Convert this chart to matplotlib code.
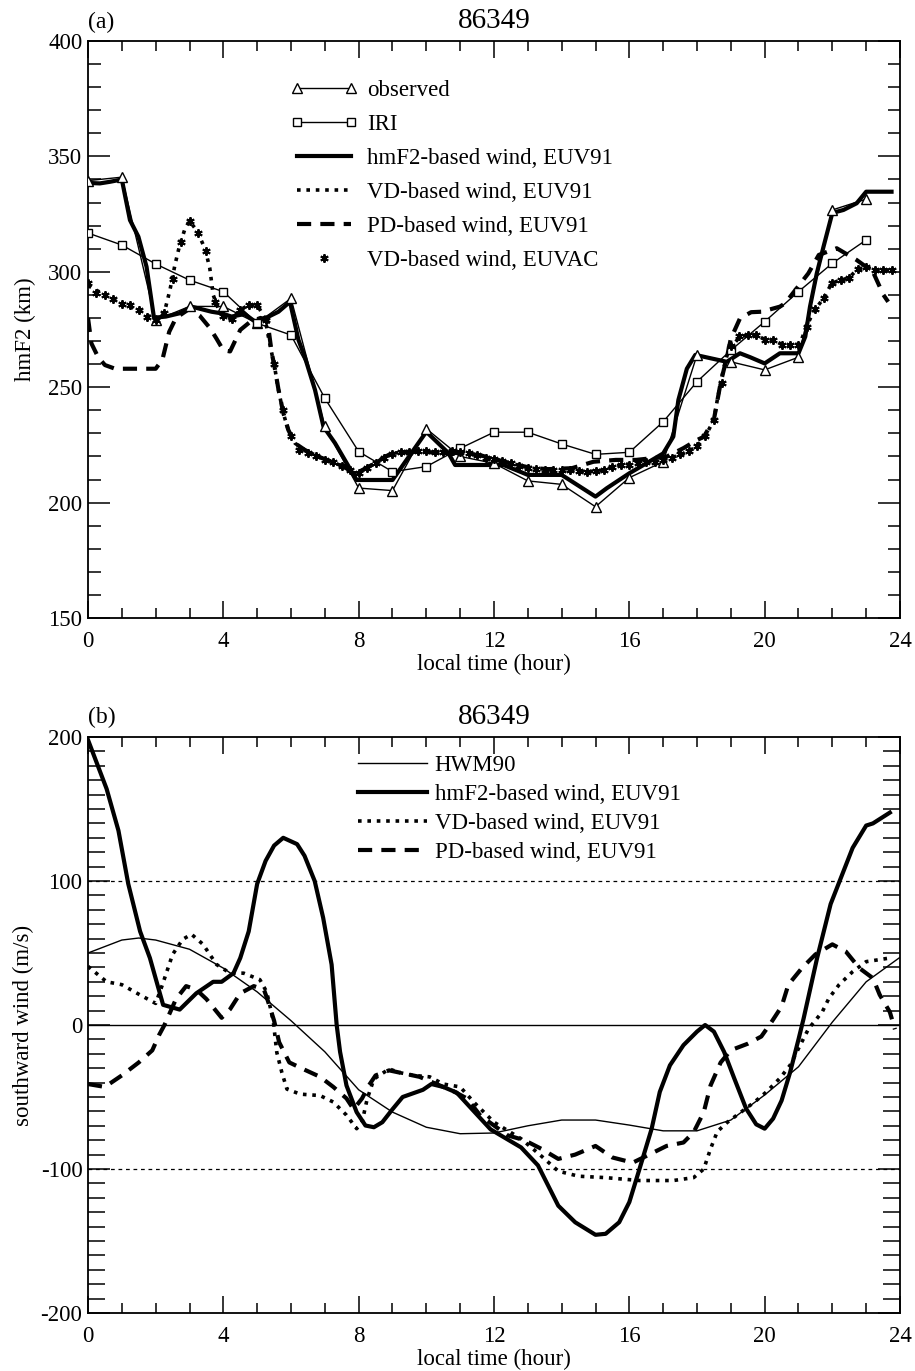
import numpy as np
import matplotlib
matplotlib.use("Agg")
import matplotlib.pyplot as plt
from matplotlib.ticker import MultipleLocator
from matplotlib.legend_handler import HandlerLine2D

plt.rcParams["font.family"] = ["Liberation Serif", "DejaVu Serif"]
plt.rcParams["axes.unicode_minus"] = False

DAY = "86349"

# ---- (a) hmF2, hourly observed / IRI ----
HOURS = list(range(24))
HMF2_OBS = [339.5, 341, 279, 285, 285, 277.7, 288.5, 233, 206.3, 205.2, 232, 220,
            217, 209.4, 207.9, 198.2, 210.8, 217.7, 264, 261, 257.5, 263, 326.8, 331.5]
HMF2_IRI = [316.8, 311.6, 303.4, 296.4, 291.4, 277.7, 272.6, 245.2, 222.1, 213.4, 215.6, 223.5,
            230.5, 230.5, 225.4, 220.9, 221.8, 235, 252.4, 266, 278.4, 291.4, 303.7, 313.8]

# model runs (time, hmF2)
HM_T = [0, 0.35, 0.65, 1.0, 1.24, 1.49, 1.73, 1.95, 2.3, 2.7, 3.06, 3.65, 3.95, 4.24, 4.63,
        4.94, 5.23, 5.63, 5.97, 6.22, 6.41, 6.71, 6.96, 7.3, 7.65, 7.94, 9.0, 10.0, 10.65,
        10.85, 12.28, 12.77, 13.0, 14.0, 15.0, 15.33, 16.0, 17.0, 17.3, 17.45, 17.7, 17.95,
        18.88, 19.27, 19.57, 20.0, 20.45, 21.0, 21.2, 21.34, 21.54, 21.74, 22.0, 22.33,
        22.72, 23.0, 23.75]
HM_V = [338.5, 338.3, 339, 340, 322.4, 315.2, 302.2, 280.1, 280.6, 282, 284.9, 282.7, 282,
        280.6, 281.7, 278.4, 279.8, 282.7, 287, 270.5, 263, 248.8, 232.9, 225.8, 217, 209.8,
        209.8, 230.7, 221.5, 216.3, 216.3, 213.4, 212, 212, 202.6, 206.2, 212.7, 221.3,
        228.6, 244.5, 258, 264, 261, 264.7, 263, 260.3, 264.7, 264.7, 271.9, 284.9, 299.3,
        310.9, 325.5, 326.8, 329.7, 334.7, 334.7]

VD_T = [0, 0.5, 1.0, 1.5, 2.0, 2.25, 2.42, 2.57, 2.71, 2.87, 3.0, 3.21, 3.46, 3.6, 3.7, 3.85,
        4.0, 4.24, 4.5, 4.75, 5.0, 5.23, 5.33, 5.43, 5.53, 5.63, 5.77, 5.92, 6.12, 6.41,
        6.81, 7.2, 7.55, 7.89, 8.1, 8.48, 8.78, 8.98, 9.37, 9.87, 10.45, 10.8, 11.2, 11.6,
        12.1, 12.5, 13.1, 13.56, 14.15, 14.74, 15.2, 15.73, 16.2, 16.7, 17.2, 17.6, 18.0,
        18.29, 18.5, 18.6, 18.7, 18.8, 18.93, 19.27, 19.5, 19.75, 20.04, 20.28, 20.53,
        20.9, 21.05, 21.2, 21.44, 21.74, 21.98, 22.23, 22.48, 22.72, 22.97, 23.22, 23.75]
VD_V = [294, 290, 286, 283.5, 279, 282, 292, 303, 311.6, 318.8, 322, 318, 310, 301.5, 290,
        284, 281, 279.5, 283.5, 285.6, 285.6, 280, 272, 264.8, 257.5, 248.8, 238.8, 231.5,
        225.7, 222.8, 219.9, 217.7, 215.6, 212.7, 214, 217, 219.9, 221.3, 222, 222, 221.5,
        221, 221.6, 220.5, 218.5, 217, 214.9, 214, 214, 213.4, 214, 216.3, 217, 217.7,
        219.2, 221.3, 224.2, 230, 235.8, 244.5, 252, 259, 266, 271.9, 272.6, 272.6, 270.4,
        270.4, 268.3, 268.3, 269, 275, 282.7, 288.5, 295, 296.4, 297.2, 300.8, 302.2,
        300.8, 300.8]

PD_T = [0, 0.1, 0.3, 0.5, 0.8, 2.0, 2.2, 2.4, 2.6, 3.0, 3.3, 3.6, 3.8, 4.0, 4.2, 4.5, 4.8,
        5.1, 5.3, 5.43, 5.53, 5.63, 5.77, 5.92, 6.12, 6.41, 6.81, 7.2, 7.55, 7.89, 8.1,
        8.48, 8.78, 9.0, 9.4, 9.9, 10.45, 11.0, 11.6, 12.1, 12.5, 13.1, 13.6, 14.3, 14.94,
        15.6, 16.2, 17.1, 17.6, 18.0, 18.2, 18.5, 18.7, 18.9, 19.0, 19.27, 19.6, 19.91,
        20.45, 20.6, 21.29, 21.6, 22.13, 22.72, 23.2, 23.51, 23.65]
PD_V = [280, 269, 263, 259.6, 258, 258, 262, 274, 280, 284, 281, 275.7, 271, 266, 265.5,
        274.8, 278.4, 280, 279, 265, 257.5, 249, 239, 231.5, 225.7, 222.8, 219.9, 217.7,
        215.6, 212.7, 214, 217, 219.9, 221.3, 222, 222, 221.5, 221.5, 220.5, 218.5, 217,
        215, 214.5, 214.9, 217.7, 218.5, 218.5, 219.9, 223.6, 227.1, 228.5, 236, 252, 264,
        271, 279.8, 282.5, 282.7, 284.9, 286.3, 299.3, 307.3, 310.2, 305.1, 300, 290, 287]

# EUVAC run, every quarter hour from 0 to 23.75
EUVAC_T = [i * 0.25 for i in range(96)]
EUVAC_V = [295, 291, 290, 288, 286, 285.5, 283.5, 280.5, 279, 282, 297, 313,
           322, 317, 309, 287, 281, 279.5, 283.5, 285.6, 285.6, 279, 260, 240,
           229, 223, 221.5, 220, 218.5, 217.5, 216, 214, 213, 215, 217, 219.5,
           221, 222, 222, 222.5, 222.5, 222, 222, 222.5, 222, 221.5, 220.5, 219.5,
           218.8, 218, 217, 216, 215, 214.5, 214, 214, 214, 214, 213.5, 213.4,
           213.5, 214, 215.5, 216.3, 216.5, 217, 217.5, 217.7, 218.5, 219.3, 221, 222.5,
           224.5, 229, 236, 252, 268, 272, 272.6, 272.6, 270.5, 270.4, 268.5, 268.3,
           268.5, 276, 284, 288.5, 295, 296.5, 297.5, 301, 302.2, 300.8, 300.8, 300.8]

# ---- (b) southward wind ----
HWM_T = [0, 1, 1.5, 2, 3, 4, 5, 6, 7, 8, 9, 10, 11, 12, 13, 14, 15, 16, 17, 18, 19, 20,
         21, 22, 23, 24]
HWM_V = [50, 59, 60.4, 59, 52.6, 39.5, 23, 3, -18.6, -45, -60.5, -71, -75.5, -75, -70, -66,
         -66, -69.5, -73.5, -73.5, -66, -48.6, -29, 2, 30, 47]

WHM_T = [0.0, 0.55, 0.9, 1.19, 1.54, 1.83, 2.22, 2.71, 3.2, 3.7, 3.95, 4.3, 4.5, 4.75, 5.0,
         5.25, 5.5, 5.77, 6.18, 6.4, 6.7, 6.95, 7.2, 7.35, 7.45, 7.64, 7.94, 8.2, 8.45, 8.7,
         9.0, 9.3, 9.9, 10.15, 10.5, 10.9, 11.35, 11.9, 12.8, 13.3, 13.9, 14.4, 15.0, 15.3,
         15.7, 16.0, 16.3, 16.66, 16.9, 17.2, 17.6, 18.0, 18.24, 18.5, 18.8, 19.1, 19.45,
         19.75, 20.0, 20.25, 20.5, 20.75, 21.0, 21.15, 21.55, 21.95, 22.25, 22.6, 23.0,
         23.2, 23.7]
WHM_V = [198, 164, 135, 98, 65, 46.5, 14, 10.7, 22, 30, 30, 36, 46.5, 65, 98, 114, 124.6,
         130, 125.6, 117.5, 100, 74.5, 42, 0, -18.6, -42, -60.5, -69.8, -71, -67.5, -58.5,
         -50, -45, -41, -43, -47, -58.5, -72.5, -85, -97.5, -125.5, -137, -145.7, -145,
         -137, -123, -100, -72, -46.5, -28, -14, -4.6, 0, -4.6, -18.6, -37, -58, -69, -72,
         -65, -52.5, -33, -10, 4.4, 46.5, 84, 102, 123, 138.5, 140, 147.5]

WVD_T = [0, 0.55, 1.0, 1.53, 2.0, 2.2, 2.5, 2.8, 3.06, 3.4, 3.8, 4.2, 4.6, 5.08, 5.28, 5.42,
         5.48, 5.58, 5.73, 5.88, 6.27, 6.86, 7.25, 7.64, 7.94, 8.1, 8.25, 8.45, 8.9, 9.2,
         9.6, 10.1, 10.5, 11.0, 11.4, 12.0, 12.8, 13.4, 13.9, 14.5, 15.3, 16.3, 17.3, 17.9,
         18.2, 18.4, 18.6, 18.9, 19.3, 19.7, 20.05, 20.45, 20.75, 21.05, 21.3, 21.7, 21.9,
         22.2, 22.6, 23.0, 23.7]
WVD_V = [40.7, 30, 28, 21, 15, 28, 49, 59.5, 63, 56, 42, 36, 36, 31.5, 23, 9, 2, -19, -33,
         -44.5, -48, -49, -53.5, -62.6, -72, -67.5, -51.5, -37.5, -30.5, -33, -35, -36, -41,
         -43, -53.5, -67.5, -79, -91, -101.5, -105, -106, -108, -108, -106, -100, -86, -74,
         -67.5, -60.5, -53.5, -46.5, -37, -28, -14, -2.5, 9, 18.6, 28, 37, 44, 46.5]

WPD_T = [0, 0.5, 1.0, 1.5, 1.9, 2.1, 2.26, 2.6, 2.9, 3.2, 3.5, 3.95, 4.2, 4.5, 4.9, 5.2, 5.3,
         5.5, 5.65, 5.95, 6.35, 6.86, 7.25, 7.64, 7.85, 8.1, 8.3, 8.5, 8.9, 9.2, 9.8, 10.15,
         10.8, 11.2, 11.6, 12.4, 12.9, 13.4, 13.9, 14.4, 15.0, 15.5, 16.1, 16.5, 17.1, 17.6,
         17.9, 18.2, 18.4, 18.7, 19.0, 19.5, 19.9, 20.2, 20.5, 20.7, 21.1, 21.5, 22.0, 22.4,
         22.8, 23.2, 23.4, 23.7, 23.85]
WPD_V = [-41, -43, -35, -26, -17.6, -7, 0, 18, 27, 24.6, 18, 5, 11, 22, 27, 24.6, 18, 3, -12,
         -26, -30.5, -36, -43, -51, -58.5, -51, -42, -35, -31.5, -33, -36, -39.5, -46, -51,
         -63, -76.6, -80, -86, -93, -90, -84, -92, -95.6, -91, -84, -81.6, -74.5, -60.5, -42,
         -26, -17.5, -13, -8, 2, 12.8, 28, 39.5, 49, 56, 51, 39.5, 32.5, 21, 9, -3]

FS = 16.5
THICK = 3.0
THIN = 1.0
DOT = (0, (1.0, 1.6))
DASH = (0, (3.4, 2.2))

fig = plt.figure(figsize=(9.15, 13.71), dpi=100)
W, H = 915.0, 1371.0
ax1 = fig.add_axes([88 / W, 1 - 618 / H, 812 / W, 577 / H])
ax2 = fig.add_axes([88 / W, 1 - 1313 / H, 812 / W, 576 / H])


def style(ax, ymaj, ymin, ylen_minor):
    ax.set_xlim(0, 24)
    ax.xaxis.set_major_locator(MultipleLocator(4))
    ax.xaxis.set_minor_locator(MultipleLocator(1))
    ax.yaxis.set_major_locator(MultipleLocator(ymaj))
    ax.yaxis.set_minor_locator(MultipleLocator(ymin))
    ax.tick_params(which="both", direction="in", top=True, right=True, width=1.1,
                   labelsize=FS, colors="black")
    ax.tick_params(axis="x", which="major", length=12, pad=9)
    ax.tick_params(axis="x", which="minor", length=7)
    ax.tick_params(axis="y", which="major", length=16, pad=4)
    ax.tick_params(axis="y", which="minor", length=ylen_minor)
    for s in ax.spines.values():
        s.set_linewidth(1.3)
    ax.set_xlabel("local time (hour)", fontsize=FS, labelpad=2)
    ax.set_title(DAY, fontsize=21, pad=9.5)


# ---- panel (a) ----
style(ax1, 50, 10, 9)
ax1.set_ylim(150, 400)
ax1.set_ylabel("hmF2 (km)", fontsize=FS, labelpad=9)
ax1.annotate("(a)", xy=(0, 1), xycoords="axes fraction", xytext=(0, 9.5),
             textcoords="offset points", ha="left", va="baseline", fontsize=17)

h_obs, = ax1.plot(HOURS, HMF2_OBS, color="k", lw=THIN, marker="^", ms=7.5,
                  mfc="white", mec="k", mew=1.0, label="observed", zorder=4)
h_iri, = ax1.plot(HOURS, HMF2_IRI, color="k", lw=THIN, marker="s", ms=6,
                  mfc="white", mec="k", mew=1.0, label="IRI", zorder=4)
h_hm, = ax1.plot(HM_T, HM_V, color="k", lw=THICK, solid_joinstyle="round",
                 label="hmF2-based wind, EUV91", zorder=3)
h_vd, = ax1.plot(VD_T, VD_V, color="k", lw=2.6, ls=DOT,
                 label="VD-based wind, EUV91", zorder=3)
h_pd, = ax1.plot(PD_T, PD_V, color="k", lw=THICK, ls=DASH,
                 label="PD-based wind, EUV91", zorder=3)
h_ac, = ax1.plot(EUVAC_T, EUVAC_V, color="k", ls="none", marker=(6, 2, 0), ms=6,
                 mew=1.4, label="VD-based wind, EUVAC", zorder=5)

ax1.legend(handles=[h_obs, h_iri, h_hm, h_vd, h_pd, h_ac], loc="upper left",
           bbox_to_anchor=(0.2488, 0.9326), frameon=False, fontsize=FS, numpoints=2,
           handlelength=2.95, handletextpad=0.4, labelspacing=0.57, borderpad=0,
           borderaxespad=0, handler_map={h_ac: HandlerLine2D(numpoints=1)})

# ---- panel (b) ----
style(ax2, 100, 10, 12)
ax2.set_ylim(-200, 200)
ax2.set_ylabel("southward wind (m/s)", fontsize=FS, labelpad=5)
ax2.annotate("(b)", xy=(0, 1), xycoords="axes fraction", xytext=(0, 10),
             textcoords="offset points", ha="left", va="baseline", fontsize=17)

ax2.axhline(0, color="k", lw=1.0, zorder=1)
for lvl in (100, -100):
    ax2.axhline(lvl, color="k", lw=0.9, ls=(0, (3, 3)), zorder=1)

w_hwm, = ax2.plot(HWM_T, HWM_V, color="k", lw=THIN, label="HWM90", zorder=2)
w_hm, = ax2.plot(WHM_T, WHM_V, color="k", lw=THICK, solid_joinstyle="round",
                 label="hmF2-based wind, EUV91", zorder=3)
w_vd, = ax2.plot(WVD_T, WVD_V, color="k", lw=2.6, ls=DOT,
                 label="VD-based wind, EUV91", zorder=3)
w_pd, = ax2.plot(WPD_T, WPD_V, color="k", lw=THICK, ls=DASH,
                 label="PD-based wind, EUV91", zorder=3)

ax2.legend(handles=[w_hwm, w_hm, w_vd, w_pd], loc="upper left",
           bbox_to_anchor=(0.3325, 0.9693), frameon=False, fontsize=FS,
           handlelength=3.0, handletextpad=0.35, labelspacing=0.35, borderpad=0,
           borderaxespad=0)

fig.savefig("out.png", dpi=100)
